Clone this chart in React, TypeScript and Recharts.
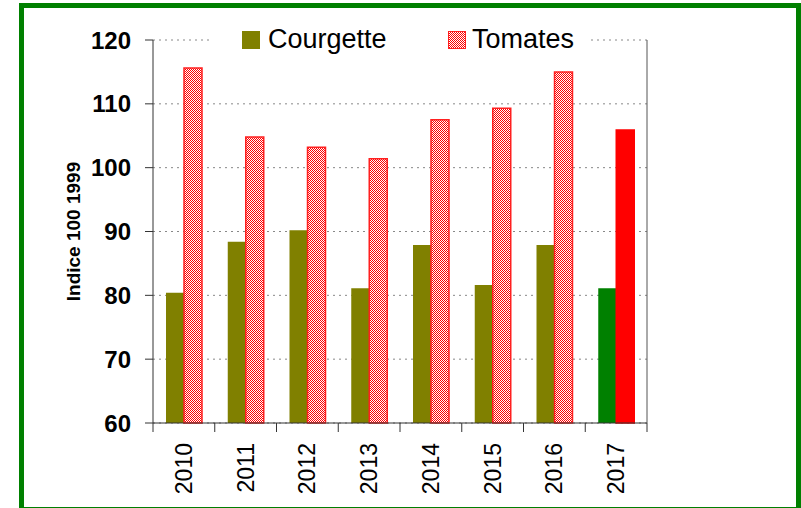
import React from 'react';
import { BarChart, Bar, XAxis, YAxis, CartesianGrid, Legend, Cell } from 'recharts';

const years = ['2010', '2011', '2012', '2013', '2014', '2015', '2016', '2017'];
const courgette = [80.4, 88.4, 90.2, 81.1, 87.9, 81.6, 87.9, 81.1];
const tomates = [115.6, 104.8, 103.2, 101.4, 107.5, 109.3, 115.0, 105.9];
const yTicks = [60, 70, 80, 90, 100, 110, 120];
const yLabel = 'Indice 100 1999';
const seriesNames = ['Courgette', 'Tomates'];

const data = years.map((y, i) => ({ year: y, courgette: courgette[i], tomates: tomates[i] }));

const W = 801;
const H = 508;
const LEFT = 153;
const RIGHT_W = 154;
const TOP = 40;
const XAXIS_H = 85;
const PLOT_W = W - LEFT - RIGHT_W;
const HALF = PLOT_W / years.length / 2;
const FONT = '"Liberation Sans", Arial, sans-serif';

const XTick = (props: any) => {
  const { x, y, payload, index } = props;
  const last = index === years.length - 1;
  return (
    <g>
      <line x1={x - HALF} x2={x - HALF} y1={y} y2={y + 9} stroke="#333" strokeWidth={1} />
      {last && <line x1={x + HALF} x2={x + HALF} y1={y} y2={y + 9} stroke="#333" strokeWidth={1} />}
      <text
        transform={`translate(${x + 8},${y + 20}) rotate(-90)`}
        textAnchor="end"
        fontFamily={FONT}
        fontSize={23}
        fill="#000"
      >
        {payload.value}
      </text>
    </g>
  );
};

const checker = 'repeating-conic-gradient(#ff0000 0 25%, #ffffff 0 50%) 0 0 / 2px 2px';

const LegendContent = () => (
  <div style={{ position: 'relative', width: 380, height: 36, background: '#fff', fontFamily: FONT, fontSize: 27, color: '#000' }}>
    <div style={{ position: 'absolute', left: 32, top: 9, width: 18, height: 18, background: '#808000' }} />
    <div style={{ position: 'absolute', left: 58, top: 1, lineHeight: '32px' }}>{seriesNames[0]}</div>
    <div
      style={{
        position: 'absolute',
        left: 238,
        top: 9,
        width: 18,
        height: 18,
        boxSizing: 'border-box',
        border: '1.5px solid #ff2020',
        background: checker,
      }}
    />
    <div style={{ position: 'absolute', left: 262, top: 1, lineHeight: '32px' }}>{seriesNames[1]}</div>
  </div>
);

const YLab = (props: any) => {
  const vb = props.viewBox || {};
  const cy = (vb.y ?? TOP) + (vb.height ?? 383) / 2;
  return (
    <text
      transform={`translate(80,${cy}) rotate(-90)`}
      textAnchor="middle"
      fontFamily={FONT}
      fontWeight="bold"
      fontSize={19}
      fill="#000"
    >
      {yLabel}
    </text>
  );
};

export default function App() {
  return (
    <div style={{ position: 'absolute', left: 0, top: 0, width: W, height: H, overflow: 'hidden', background: '#fff' }}>
      <div
        style={{
          position: 'absolute',
          left: 19,
          top: 3,
          width: 782,
          height: 509,
          border: '5px solid #008000',
          boxSizing: 'border-box',
        }}
      />
      <div style={{ position: 'absolute', left: 0, top: 0 }}>
        <BarChart
          width={W}
          height={H}
          data={data}
          margin={{ top: TOP, right: 0, left: 0, bottom: 0 }}
          barGap={0}
          barSize={18}
        >
          <defs>
            <pattern id="tompat" width={2} height={2} patternUnits="userSpaceOnUse">
              <rect width={2} height={2} fill="#fff" />
              <rect width={1} height={1} fill="#ff0000" />
              <rect x={1} y={1} width={1} height={1} fill="#ff0000" />
            </pattern>
          </defs>
          <CartesianGrid horizontal vertical={false} stroke="#888" strokeDasharray="2 4" yAxisId="left" />
          <XAxis
            dataKey="year"
            height={XAXIS_H}
            axisLine={{ stroke: '#333' }}
            tickLine={false}
            tickSize={0}
            tickMargin={0}
            interval={0}
            tick={<XTick />}
          />
          <YAxis
            yAxisId="left"
            orientation="left"
            width={LEFT}
            domain={[60, 120]}
            ticks={yTicks}
            axisLine={{ stroke: '#333' }}
            tickLine={{ stroke: '#333' }}
            tickSize={8}
            tickMargin={14}
            tick={{ fontFamily: FONT, fontSize: 24, fontWeight: 'bold', fill: '#000' }}
            label={<YLab />}
          />
          <YAxis
            yAxisId="right"
            orientation="right"
            width={RIGHT_W}
            domain={[60, 120]}
            ticks={yTicks}
            axisLine={{ stroke: '#555' }}
            tickLine={{ stroke: '#333' }}
            tickSize={8}
            tickMargin={13}
            tick={{ fontFamily: FONT, fontSize: 24, fontWeight: 'bold', fill: '#000', textAnchor: 'start' }}
          />
          <Legend
            layout="vertical"
            align="center"
            verticalAlign="middle"
            wrapperStyle={{ top: 22, left: 210, width: 380, height: 36 }}
            content={<LegendContent />}
          />
          <Bar dataKey="courgette" yAxisId="left" fill="#808000" isAnimationActive={false}>
            {data.map((d, i) => (
              <Cell key={i} fill={i === years.length - 1 ? '#008000' : '#808000'} />
            ))}
          </Bar>
          <Bar dataKey="tomates" yAxisId="left" fill="url(#tompat)" isAnimationActive={false}>
            {data.map((d, i) => (
              <Cell
                key={i}
                fill={i === years.length - 1 ? '#ff0000' : 'url(#tompat)'}
                stroke={i === years.length - 1 ? '#ff0000' : '#ff2020'}
                strokeWidth={1.5}
              />
            ))}
          </Bar>
        </BarChart>
      </div>
    </div>
  );
}
